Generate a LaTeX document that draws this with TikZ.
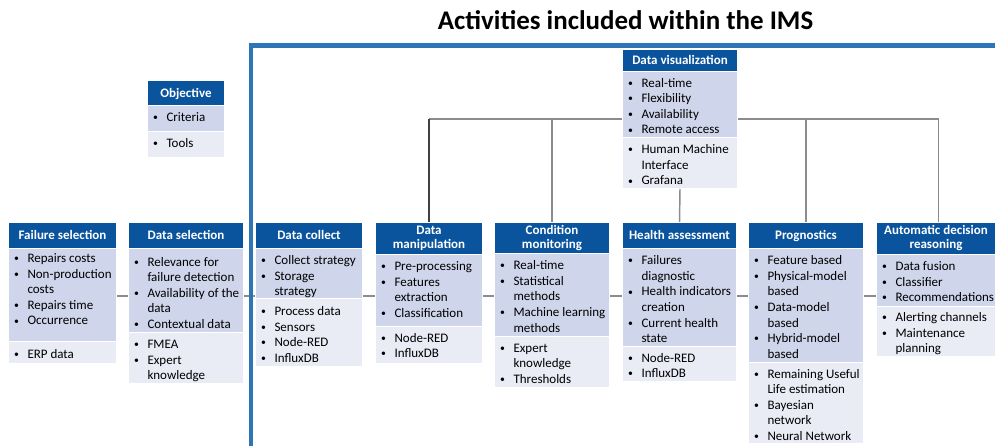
\documentclass[tikz,border=0pt]{standalone}
\usepackage{fontspec}
\setmainfont{Carlito}
\usetikzlibrary{backgrounds}
\definecolor{hdrblue}{RGB}{10,84,158}
\definecolor{critfill}{RGB}{207,213,234}
\definecolor{toolfill}{RGB}{233,235,245}
\definecolor{frameblue}{RGB}{46,117,182}
\definecolor{linegray}{RGB}{140,140,140}
\definecolor{linedark}{RGB}{64,64,64}
\newlength\pxu \setlength\pxu{0.75pt}
\newcommand\bi{\makebox[14\pxu][l]{\hspace*{0.6\pxu}\raisebox{0.6pt}{\scalebox{0.75}{\textbullet}}}}
\newcommand\cont{\hspace*{14\pxu}}
% name, x, y, w, h, style, top pad, rows
\newcommand\secnode[8]{\node[#6,anchor=north west] (#1) at (#2,#3) {\parbox[t][#5\pxu][t]{#4\pxu}{\vspace*{#7\pxu}\noindent\begin{tabular}[t]{@{\hspace*{5\pxu}}l@{}}#8\end{tabular}}};}
% name, x, y, w, h, style, text
\newcommand\hdrnode[7]{\node[#6,anchor=north west,minimum width={#4*0.75pt},minimum height={#5*0.75pt}] (#1) at (#2,#3) {#7};}
\tikzset{
  hdr/.style={fill=hdrblue,text=white,draw=white,line width=0.75pt,inner sep=0pt,
    font=\fontsize{9.75pt}{10.5pt}\selectfont\bfseries,align=center},
  hdrone/.style={hdr,text height=6.3pt,text depth=0pt},
  secbase/.style={draw=white,line width=0.75pt,inner sep=0pt,
    font=\fontsize{9.75pt}{11.7pt}\selectfont},
  crit/.style={secbase,fill=critfill},
  tool/.style={secbase,fill=toolfill},
  conn/.style={draw=linegray,line width=1.1pt},
  conndark/.style={draw=linedark,line width=0.8pt},
  frameline/.style={draw=frameblue,line width=3.4pt},
}
\begin{document}
\begin{tikzpicture}[x=0.75pt,y=-0.75pt]
\useasboundingbox (0,0) rectangle (995,446);

% title
\node[anchor=base,inner sep=0pt,font=\fontsize{20.2pt}{24pt}\selectfont\bfseries] (title) at (625.5,29.3) {Activities included within the IMS};

% IMS frame
\coordinate (frbl) at (251,446);
\coordinate (frtr) at (995,45.5);
\draw[frameline] (frbl) |- (frtr);

% legend
\hdrnode{ob-h}{147}{80}{77}{25}{hdrone}{Objective}
\secnode{ob-c}{147}{105}{77}{26}{crit}{5}{\bi Criteria}
\secnode{ob-t}{147}{131}{77}{26}{tool}{5}{\bi Tools}

% Failure selection
\hdrnode{fs-h}{8}{222}{108}{26}{hdrone}{Failure selection}
\secnode{fs-c}{8}{248}{108}{93}{crit}{3}{\bi Repairs costs\\ \bi Non-production\\ \cont costs\\ \bi Repairs time\\ \bi Occurrence}
\secnode{fs-t}{8}{341}{108}{22}{tool}{5.7}{\bi ERP data}

% Data selection
\hdrnode{ds-h}{128}{222}{115}{26}{hdrone}{Data selection}
\secnode{ds-c}{128}{248}{115}{84}{crit}{6.7}{\bi Relevance for\\ \cont failure detection\\ \bi Availability of the\\ \cont data\\ \bi Contextual data}
\secnode{ds-t}{128}{332}{115}{51}{tool}{5.3}{\bi FMEA\\ \bi Expert\\ \cont knowledge}

% Data collect
\hdrnode{dc-h}{255}{222}{107}{26}{hdrone}{Data collect}
\secnode{dc-c}{255}{248}{107}{50}{crit}{5.3}{\bi Collect strategy\\ \bi Storage\\ \cont strategy}
\secnode{dc-t}{255}{298}{107}{68}{tool}{6}{\bi Process data\\ \bi Sensors\\ \bi Node-RED\\ \bi InfluxDB}

% Data manipulation
\hdrnode{dm-h}{375}{222}{107}{32}{hdr}{Data\\manipulation}
\secnode{dm-c}{375}{254}{107}{72}{crit}{5}{\bi Pre-processing\\ \bi Features\\ \cont extraction\\ \bi Classification}
\secnode{dm-t}{375}{326}{107}{37}{tool}{4.7}{\bi Node-RED\\ \bi InfluxDB}

% Condition monitoring
\hdrnode{cm-h}{494}{222}{115}{31}{hdr}{Condition\\monitoring}
\secnode{cm-c}{494}{253}{115}{83}{crit}{5.3}{\bi Real-time\\ \bi Statistical\\ \cont methods\\ \bi Machine learning\\ \cont methods}
\secnode{cm-t}{494}{336}{115}{51}{tool}{4.7}{\bi Expert\\ \cont knowledge\\ \bi Thresholds}

% Health assessment
\hdrnode{ha-h}{622}{222}{114}{26}{hdrone}{Health assessment}
\secnode{ha-c}{622}{248}{114}{98}{crit}{5.3}{\bi Failures\\ \cont diagnostic\\ \bi Health indicators\\ \cont creation\\ \bi Current health\\ \cont state}
\secnode{ha-t}{622}{346}{114}{35}{tool}{4.7}{\bi Node-RED\\ \bi InfluxDB}

% Prognostics
\hdrnode{pr-h}{748}{222}{115}{26}{hdrone}{Prognostics}
\secnode{pr-c}{748}{248}{115}{114}{crit}{5.3}{\bi Feature based\\ \bi Physical-model\\ \cont based\\ \bi Data-model\\ \cont based\\ \bi Hybrid-model\\ \cont based}
\secnode{pr-t}{748}{362}{115}{81}{tool}{4.7}{\bi Remaining Useful\\ \cont Life estimation\\ \bi Bayesian\\ \cont network\\ \bi Neural Network}

% Automatic decision reasoning
\hdrnode{adr-h}{876}{222}{119}{32}{hdr}{Automatic decision\\reasoning}
\secnode{adr-c}{876}{254}{119}{52}{crit}{5}{\bi Data fusion\\ \bi Classifier\\ \bi Recommendations}
\secnode{adr-t}{876}{306}{119}{50}{tool}{4}{\bi Alerting channels\\ \bi Maintenance\\ \cont planning}

% Data visualization
\hdrnode{dv-h}{622}{49}{115}{22}{hdrone}{Data visualization}
\secnode{dv-c}{622}{71}{115}{66}{crit}{4.7}{\bi Real-time\\ \bi Flexibility\\ \bi Availability\\ \bi Remote access}
\secnode{dv-t}{622}{137}{115}{51}{tool}{5.3}{\bi Human Machine\\ \cont Interface\\ \bi Grafana}

% connectors
\coordinate (treey) at (0,119);
\coordinate (rowy) at (0,296);
\begin{scope}[on background layer]
\draw[conn] (fs-c.east |- rowy) -- (adr-c.west |- rowy);
\end{scope}
\draw[conn] (dv-c.west |- treey) -- (dm-h.north |- treey);
\draw[conndark] (dm-h.north |- treey) -- (dm-h.north);
\draw[conn] (dv-c.east |- treey) -| ([xshift=1.9pt]adr-h.north);
\draw[conn] (cm-h.north |- treey) -- (cm-h.north);
\draw[conn] (pr-h.north |- treey) -- (pr-h.north);
\draw[conn] (dv-t.south) -- (ha-h.north);
\end{tikzpicture}
\end{document}
